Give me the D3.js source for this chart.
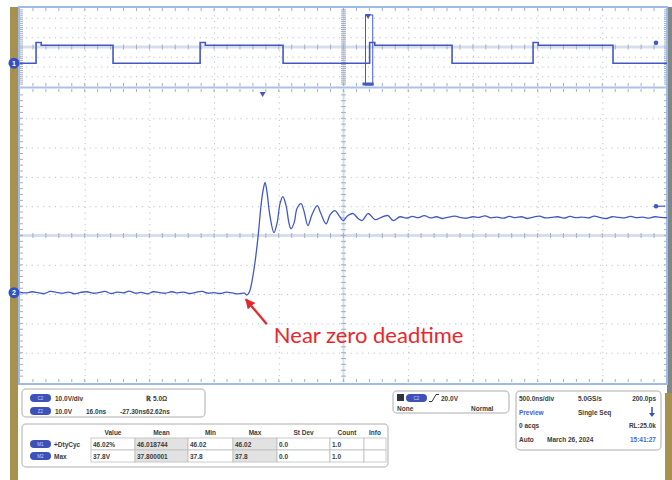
<!DOCTYPE html>
<html>
<head>
<meta charset="utf-8">
<script src="https://cdn.jsdelivr.net/npm/d3@7"></script>
<style>
  body { margin: 0; background: #fff; }
  svg { display: block; font-family: "Liberation Sans", Arial, sans-serif; }
</style>
</head>
<body>
<div id="viz"></div>
<script>
// channel 1, full record (time in ns from trigger, volts)
var ch1Time = [-2690, -2566, -2526, -1971, -1298, -1258, -657, 12, 52, 649, 1275, 1315, 1893, 2310]
var ch1Volt = [0, 30, 26, 0, 30, 26, 0, 30, 26, 0, 30, 26, 0, 0]

// channel 2, zoomed view (time in ns from trigger, volts)
var ch2Time = [
  -60, -58.5, -57, -55.5, -54, -52.5, -51, -49.5, -48, -46.5, -45, -43.5, -42, -40.5, -39, -37.5,
  -36, -34.5, -33, -31.5, -30, -28.5, -27, -25.5, -24, -22.5, -21, -19.5, -18, -16.5, -15, -13.5,
  -12, -10.5, -9, -7.5, -6, -4.5,
  -3.9, -3.2, -2.6, -1.9, -1.1, -0.4, 0.1, 0.6, 1.1, 1.8, 2.8, 3.6, 4.3, 5.0, 5.8, 6.5, 7.0, 7.8,
  8.5, 9.5, 10.2, 11.2, 12.2, 13.5, 14.4, 15.7, 16.7, 17.9, 18.9, 19.9, 21.1, 22.4, 23.6, 24.6,
  26.1, 27.8, 29.5, 31.0, 32.3, 34.0,
  35.5, 37, 38.5, 40, 41.5, 43, 44.5, 46, 47.5, 49, 50.5, 52, 53.5, 55, 56.5, 58, 59.5, 61, 62.5,
  64, 65.5, 67, 68.5, 70, 71.5, 73, 74.5, 76, 77.5, 79, 80.5, 82, 83.5, 85, 86.5, 88, 89.5, 91,
  92.5, 94, 95.5, 97, 98.5, 100
]
var ch2Volt = [
  0.2, -0.1, 0.3, 0.0, -0.3, 0.4, 0.1, -0.2, 0.2, -0.4, 0.1, 0.3, -0.2, 0.0, 0.4, -0.3,
  0.2, -0.1, 0.5, -0.2, 0.1, -0.4, 0.3, 0.0, -0.2, 0.3, -0.1, 0.2, -0.3, 0.1, 0.4, -0.2,
  0.0, -0.3, 0.2, -0.1, -0.4, -0.2,
  -0.8, 0.5, 4.1, 10.2, 19.5, 29.7, 34.8, 37.6, 34.1, 26.3, 20.5, 23.9, 30.4, 32.8, 29.7, 23.9, 21.8, 23.9,
  28.7, 30.4, 28.0, 22.9, 26.6, 29.7, 27.0, 23.5, 26.6, 28.0, 26.3, 24.6, 26.3, 27.0, 25.3, 24.6,
  27.0, 24.9, 25.8, 26.3, 24.6, 25.9,
  25.4, 26.0, 25.6, 26.3, 25.5, 25.9, 25.3, 25.8, 26.1, 25.6, 25.4, 25.9, 25.7, 26.2, 25.5, 25.8, 25.4, 26.0, 25.6,
  25.9, 25.3, 25.8, 26.1, 25.5, 25.7, 25.9, 25.4, 26.0, 25.6, 25.8, 25.5, 26.1, 25.6, 25.3, 25.9, 25.7, 25.5, 26.0,
  25.6, 25.8, 25.4, 25.9, 25.7, 25.6
]

var zoomWindow = [-20, 36]
var levelMarker = 29.5

var chInfo = ['10.0V/div', '5.0Ω']
var zoomInfo = ['10.0V', '16.0ns', '-27.30ns62.62ns']
var measHeaders = ['Value', 'Mean', 'Min', 'Max', 'St Dev', 'Count', 'Info']
var measNames = ['+DtyCyc', 'Max']
var measValues = [
  ['46.02%', '46.018744', '46.02', '46.02', '0.0', '1.0', ''],
  ['37.8V', '37.800001', '37.8', '37.8', '0.0', '1.0', '']
]
var trigInfo = ['20.0V', 'None', 'Normal']
var hInfo = [
  ['500.0ns/div', '5.0GS/s', '200.0ps'],
  ['Preview', 'Single Seq', ''],
  ['0 acqs', '', 'RL:25.0k'],
  ['Auto', 'March 26, 2024', '15:41:27']
]

var W = 672, H = 480
var L = 20, R = 667
var topBox = { y0: 8, y1: 86 }
var mainBox = { y0: 89, y1: 382 }
var traceColor = '#4358c4'
var gridColor = '#b9c1d4'

var svg = d3.select('#viz').append('svg').attr('width', W).attr('height', H)

svg.append('rect').attr('width', W).attr('height', H).attr('fill', '#fff')

// bezel strips
svg.append('rect').attr('x', 10).attr('y', 7).attr('width', 8).attr('height', H - 7).attr('fill', '#a8904f')
svg.append('rect').attr('x', 667).attr('y', 7).attr('width', 5).attr('height', 386).attr('fill', '#7f8787')
svg.append('rect').attr('x', 665).attr('y', 393).attr('width', 7).attr('height', H - 393).attr('fill', '#a8904f')

// scales
var xTop = d3.scaleLinear().domain([-2690, 2310]).range([L, R])
var yTop = d3.scaleLinear().domain([-33, 80]).range([topBox.y1, topBox.y0])
var xMain = d3.scaleLinear().domain([-60, 100]).range([L, R])
var yMain = d3.scaleLinear().domain([-30.5, 69.5]).range([mainBox.y1, mainBox.y0])

// graticule for one panel
function graticule(box, nx, ny) {
  var gx = d3.scaleLinear().domain([0, nx]).range([L, R])
  var gy = d3.scaleLinear().domain([0, ny]).range([box.y0, box.y1])
  var g = svg.append('g')

  g.append('g')
    .attr('transform', 'translate(0,' + box.y1 + ')')
    .call(d3.axisBottom(gx).tickValues(d3.range(1, nx)).tickSize(-(box.y1 - box.y0)).tickFormat(''))
  g.append('g')
    .attr('transform', 'translate(' + L + ',0)')
    .call(d3.axisLeft(gy).tickValues(d3.range(1, ny)).tickSize(-(R - L)).tickFormat(''))
  g.selectAll('.domain').remove()
  g.selectAll('.tick line')
    .attr('stroke', gridColor)
    .attr('stroke-width', 1)
    .attr('stroke-dasharray', '1.2,4.6')

  var cx = gx(nx / 2), cy = gy(ny / 2)
  // center axes
  g.append('line').attr('x1', L).attr('x2', R).attr('y1', cy).attr('y2', cy)
    .attr('stroke', '#d6ddeb').attr('stroke-width', 3)
  g.append('line').attr('x1', cx).attr('x2', cx).attr('y1', box.y0).attr('y2', box.y1)
    .attr('stroke', '#d6ddeb').attr('stroke-width', 2)

  var minorX = d3.range(1, nx * 5).map(function(i) { return gx(i / 5) })
  var minorY = d3.range(1, ny * 5).map(function(i) { return gy(i / 5) })
  var tk = g.append('g').attr('stroke', '#a3aec6').attr('stroke-width', 1)
  minorX.forEach(function(x) {
    tk.append('line').attr('x1', x).attr('x2', x).attr('y1', cy - 2.5).attr('y2', cy + 2.5)
    tk.append('line').attr('x1', x).attr('x2', x).attr('y1', box.y1 - 3).attr('y2', box.y1)
    tk.append('line').attr('x1', x).attr('x2', x).attr('y1', box.y0).attr('y2', box.y0 + 3)
  })
  minorY.forEach(function(y) {
    tk.append('line').attr('x1', cx - 2.5).attr('x2', cx + 2.5).attr('y1', y).attr('y2', y)
    tk.append('line').attr('x1', L).attr('x2', L + 3).attr('y1', y).attr('y2', y)
    tk.append('line').attr('x1', R - 3).attr('x2', R).attr('y1', y).attr('y2', y)
  })
}

graticule(topBox, 10, 8)
graticule(mainBox, 10, 10)

// panel borders
svg.append('rect').attr('x', 19).attr('y', 7).attr('width', 648).attr('height', 377)
  .attr('fill', 'none').attr('stroke', '#9dbbe6').attr('stroke-width', 2)
svg.append('line').attr('x1', 19).attr('x2', 667).attr('y1', 87.5).attr('y2', 87.5)
  .attr('stroke', '#a9c3e8').attr('stroke-width', 2)

// zoom window indicator on channel 1 panel
var zx0 = xTop(zoomWindow[0]), zx1 = xTop(zoomWindow[1])
svg.append('rect').attr('x', zx0).attr('y', 15).attr('width', zx1 - zx0).attr('height', 70)
  .attr('fill', 'none').attr('stroke', traceColor).attr('stroke-width', 1)
svg.append('rect').attr('x', zx0 - 3).attr('y', 82.5).attr('width', zx1 - zx0 + 4).attr('height', 3)
  .attr('fill', traceColor)

// traces
var line1 = d3.line()
  .x(function(d, i) { return xTop(ch1Time[i]) })
  .y(function(d) { return yTop(d) })
  .curve(d3.curveStepAfter)
svg.append('path').attr('d', line1(ch1Volt))
  .attr('fill', 'none').attr('stroke', traceColor).attr('stroke-width', 1.6)

var line2 = d3.line()
  .x(function(d, i) { return xMain(ch2Time[i]) })
  .y(function(d) { return yMain(d) })
  .curve(d3.curveCatmullRom.alpha(0.5))
svg.append('path').attr('d', line2(ch2Volt))
  .attr('fill', 'none').attr('stroke', traceColor).attr('stroke-width', 1.3)
  .attr('stroke-linejoin', 'round')

// trigger position markers
function tri(x, y) {
  svg.append('path')
    .attr('d', 'M' + (x - 3) + ',' + y + 'L' + (x + 3) + ',' + y + 'L' + x + ',' + (y + 5) + 'Z')
    .attr('fill', traceColor)
}
tri(xTop(0), 14)
tri(xMain(0), 92)

// level markers on the right edge
svg.append('circle').attr('cx', 656).attr('cy', yTop(levelMarker)).attr('r', 2.3).attr('fill', traceColor)
svg.append('circle').attr('cx', 656).attr('cy', yMain(levelMarker)).attr('r', 2.3).attr('fill', traceColor)
svg.append('line').attr('x1', 656).attr('x2', 665).attr('y1', yMain(levelMarker)).attr('y2', yMain(levelMarker))
  .attr('stroke', traceColor).attr('stroke-width', 1.2)

// channel ground markers
;[['1', yTop(0)], ['2', yMain(0)]].forEach(function(m) {
  svg.append('circle').attr('cx', 14).attr('cy', m[1]).attr('r', 5.5).attr('fill', '#3450c0')
  svg.append('text').attr('x', 14).attr('y', m[1] + 2.5).attr('text-anchor', 'middle')
    .attr('font-size', 7).attr('font-weight', 'bold').attr('fill', '#fff').text(m[0])
})

// annotation
var tipX = xMain(-4.4), tipY = yMain(-1.6)
svg.append('defs').append('marker')
  .attr('id', 'arr').attr('viewBox', '0 0 10 10').attr('refX', 9).attr('refY', 5)
  .attr('markerWidth', 4.5).attr('markerHeight', 4.5).attr('orient', 'auto')
  .append('path').attr('d', 'M0,0L10,5L0,10Z').attr('fill', '#e8272c')
svg.append('line').attr('x1', tipX + 22).attr('x2', tipX + 1).attr('y1', tipY + 27).attr('y2', tipY + 2)
  .attr('stroke', '#e8272c').attr('stroke-width', 2.2).attr('marker-end', 'url(#arr)')
svg.append('text').attr('x', tipX + 29).attr('y', tipY + 46)
  .attr('font-family', 'Lato, "Open Sans", sans-serif').attr('font-size', 22)
  .attr('fill', '#e8272c').text('Near zero deadtime')

// ---- info area ----
var txtColor = '#3b3b3b'
function label(x, y, s, opts) {
  opts = opts || {}
  return svg.append('text').attr('x', x).attr('y', y)
    .attr('font-size', opts.size || 6.5).attr('font-weight', 'bold')
    .attr('fill', opts.color || txtColor)
    .attr('text-anchor', opts.anchor || 'start').text(s)
}
function box(x, y, w, h) {
  svg.append('rect').attr('x', x).attr('y', y).attr('width', w).attr('height', h).attr('rx', 4)
    .attr('fill', '#fff').attr('stroke', '#c9c9c9').attr('stroke-width', 1.5)
}
function pill(x, y, w, s) {
  svg.append('rect').attr('x', x).attr('y', y).attr('width', w).attr('height', 8).attr('rx', 4)
    .attr('fill', '#3d51b8')
  svg.append('text').attr('x', x + w / 2).attr('y', y + 6).attr('text-anchor', 'middle')
    .attr('font-size', 4.5).attr('fill', '#c9d2ff').text(s)
}

// channel box
box(22, 389, 183, 28)
pill(30, 394, 21, 'C2')
label(55, 400.5, chInfo[0])
label(146, 400.5, 'ℝ', { size: 7 })
label(153, 400.5, chInfo[1])
pill(30, 407, 21, 'Z2')
label(55, 413.5, zoomInfo[0])
label(86, 413.5, zoomInfo[1])
label(120, 413.5, zoomInfo[2])

// measurement table
box(22, 424, 366, 43)
var colEdges = [91, 135, 188, 233, 277, 330, 364, 386]
var rowEdges = [438, 450, 462]
measHeaders.forEach(function(h, i) {
  label((colEdges[i] + colEdges[i + 1]) / 2, 435, h, { anchor: 'middle' })
})
measValues.forEach(function(row, r) {
  pill(30, rowEdges[r] + 2, 21, 'M' + (r + 1))
  label(54, rowEdges[r] + 8.5, measNames[r])
  row.forEach(function(v, c) {
    svg.append('rect').attr('x', colEdges[c]).attr('y', rowEdges[r])
      .attr('width', colEdges[c + 1] - colEdges[c]).attr('height', rowEdges[r + 1] - rowEdges[r])
      .attr('fill', c === 1 || c === 3 ? '#e2e2e2' : '#fff')
      .attr('stroke', '#bdbdbd').attr('stroke-width', 0.8)
    label(colEdges[c] + 2, rowEdges[r] + 8.5, v)
  })
})

// trigger box
box(393, 391, 116, 22)
svg.append('rect').attr('x', 397).attr('y', 394).attr('width', 7).attr('height', 7).attr('fill', '#2e3440')
pill(406, 394, 21, 'C2')
svg.append('path').attr('d', 'M429,401.5L432,401.5L436,394.5L439,394.5')
  .attr('fill', 'none').attr('stroke', '#333').attr('stroke-width', 1)
label(441, 400.5, trigInfo[0])
label(397, 410.5, trigInfo[1])
label(471, 410.5, trigInfo[2])

// horizontal / acquisition box
box(516, 391, 145, 59)
var hy = [401, 415, 428, 442]
hInfo.forEach(function(row, r) {
  label(519, hy[r], row[0], { color: r === 1 ? '#3e5fd0' : txtColor })
  label(r === 3 ? 547 : 578, hy[r], row[1])
  label(656, hy[r], row[2], { anchor: 'end', color: r === 3 ? '#3e6ad8' : txtColor })
})
// single-seq arrow
svg.append('line').attr('x1', 652).attr('x2', 652).attr('y1', 407).attr('y2', 414)
  .attr('stroke', '#3450c0').attr('stroke-width', 1.5)
svg.append('path').attr('d', 'M649,413L655,413L652,417Z').attr('fill', '#3450c0')
</script>
</body>
</html>
